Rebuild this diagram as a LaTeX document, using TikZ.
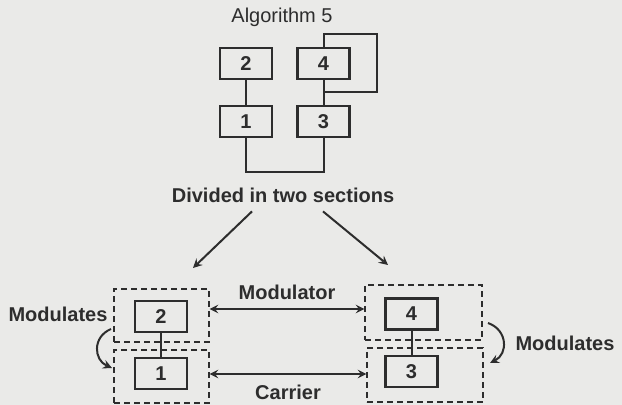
\documentclass[tikz,border=0pt]{standalone}
\usepackage{fontspec}
\setmainfont{Liberation Sans}
\usepackage{tikz}
\usetikzlibrary{arrows}
\usetikzlibrary{positioning, calc}
\usepackage{xcolor}

\definecolor{ink}{RGB}{45,45,45}
\definecolor{paper}{RGB}{234,234,232}

\begin{document}
\begin{tikzpicture}[>=stealth, x=0.5pt, y=-0.5pt, ink,
    op/.style={draw, line width=1.25pt, minimum width=26pt, minimum height=15.5pt, inner sep=0pt, font=\fontsize{10}{12}\selectfont\bfseries},
    sect/.style={draw, dashed, dash pattern=on 3pt off 2pt, line width=0.6pt, inner sep=0pt},
    lbl/.style={font=\fontsize{10}{12}\selectfont},
    wire/.style={line width=1pt},
    arr/.style={->, line width=1pt}]
      \fill[paper] (0, 0) rectangle (622, 405);
      \useasboundingbox (0, 0) rectangle (622, 405);

      % algorithm 5
      \node[lbl] (title) at (282, 17) {Algorithm 5};
      \node[op] (op2) at (246, 63.5) {2};
      \node[op] (op4) at (323.5, 63.5) {4};
      \node[op] (op1) at (246, 121.5) {1};
      \node[op] (op3) at (323.5, 121.5) {3};
      \coordinate (fbtop) at (377, 34);
      \coordinate (fbend) at (323.5, 92);
      \coordinate (sum) at (285, 172);
      \draw[wire] (op2) -- (op1);
      \draw[wire] (op4) -- (op3);
      \draw[wire] (op4.north) |- (fbtop) |- (fbend);
      \draw[wire] (op1.south) |- (sum) -| (op3.south);

      \node[lbl, font=\fontsize{10}{12}\selectfont\bfseries] (div) at (283, 195) {Divided in two sections};
      \coordinate (tipL) at (193, 268);
      \coordinate (tipR) at (388, 265);
      \draw[arr] ([xshift=-15.5pt, yshift=-1pt]div.south) -- (tipL);
      \draw[arr] ([xshift=20pt, yshift=-1pt]div.south) -- (tipR);

      % two sections
      \node[sect, minimum width=47.5pt, minimum height=26.5pt] (modL) at (161.5, 315.5) {};
      \node[sect, minimum width=47.5pt, minimum height=26.5pt] (carL) at (161.5, 376.5) {};
      \node[sect, minimum width=58.5pt, minimum height=27.5pt] (modR) at (423.5, 312.5) {};
      \node[sect, minimum width=58pt, minimum height=27pt] (carR) at (425, 375) {};
      \node[op] (b2) at (161, 316.5) {2};
      \node[op] (b1) at (161, 373.5) {1};
      \node[op] (b4) at (411.5, 314) {4};
      \node[op] (b3) at (411.5, 371.5) {3};
      \draw[wire] (b2) -- (b1);
      \draw[wire] (b4) -- (b3);

      \draw[<->, line width=0.9pt] ([yshift=3.25pt]modL.east) -- ([yshift=3.25pt]modL.east -| modR.west) node[lbl, font=\fontsize{10}{12}\selectfont\bfseries, midway, above=1pt] (mtxt) {Modulator};
      \draw[<->, line width=0.9pt] ([yshift=1.25pt]carL.east) -- ([yshift=1.25pt]carL.east -| carR.west) node[lbl, font=\fontsize{10}{12}\selectfont\bfseries, midway, below=1.5pt] (ctxt) {Carrier};

      \node[lbl, font=\fontsize{10}{12}\selectfont\bfseries] (modsL) at (58, 314) {Modulates};
      \node[lbl, font=\fontsize{10}{12}\selectfont\bfseries] (modsR) at (565, 343) {Modulates};
      \coordinate (aL) at (111, 329);
      \coordinate (bL) at (112, 368);
      \coordinate (aR) at (488, 323);
      \coordinate (bR) at (490, 363);
      \draw[arr] (aL) .. controls (92, 337) and (94, 360) .. (bL);
      \draw[arr] (aR) .. controls (508, 330) and (508, 354) .. (bR);

    \end{tikzpicture}
\end{document}
